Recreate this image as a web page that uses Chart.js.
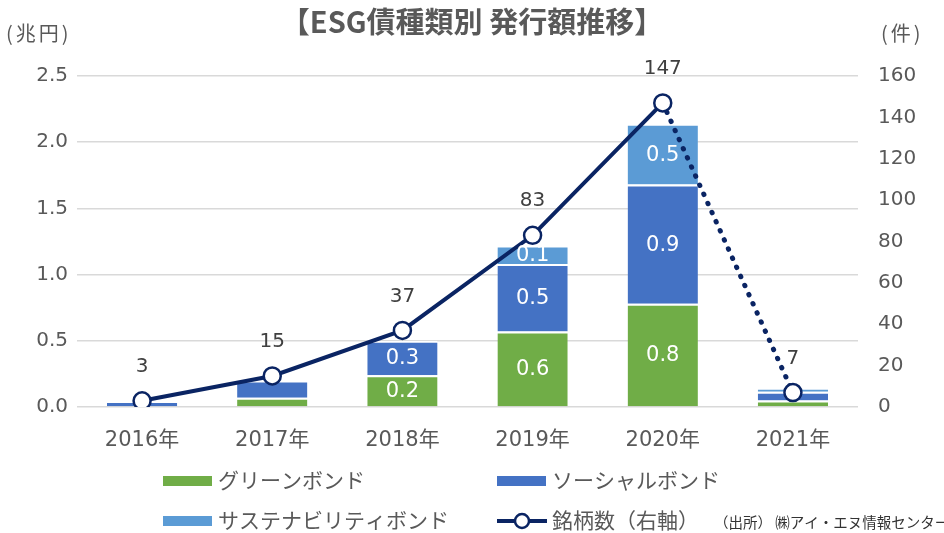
<!DOCTYPE html>
<html lang="ja">
<head>
<meta charset="UTF-8">
<title>ESG債種類別 発行額推移</title>
<script src="https://cdn.jsdelivr.net/npm/chart.js"></script>
<style>
  body { margin: 0; background: #fff; }
  .wrap { width: 944px; height: 533px; position: relative; }
</style>
</head>
<body>
<div class="wrap"><canvas id="esgChart"></canvas></div>
<script>
  // データ（兆円 / 件）
  const years = ['2016年', '2017年', '2018年', '2019年', '2020年', '2021年'];
  const greenBond = [0, 0.07, 0.24, 0.57, 0.78, 0.05];
  const socialBond = [0.045, 0.13, 0.26, 0.51, 0.90, 0.065];
  const sustainBond = [0, 0, 0, 0.14, 0.46, 0.03];
  const issueCount = [3, 15, 37, 83, 147, 7];
  const labeledYears = ['2018年', '2019年', '2020年'];

  const NAVY = '#0a2463';
  const GREY = '#595959';
  const NUM = "'DejaVu Sans', 'Noto Sans CJK JP', sans-serif";
  const CJK = "'Noto Sans CJK JP', 'Liberation Sans', sans-serif";

  // 文字・凡例・ラベルを描くプラグイン
  const decor = {
    id: 'decor',
    afterDatasetsDraw(chart) {
      const ctx = chart.ctx;
      ctx.save();
      ctx.textAlign = 'center';
      ctx.textBaseline = 'middle';

      // 棒グラフの数値（白）
      ctx.fillStyle = '#fff';
      ctx.font = '21px ' + NUM;
      [0, 1, 2].forEach(di => {
        const meta = chart.getDatasetMeta(di);
        meta.data.forEach((bar, i) => {
          if (!labeledYears.includes(years[i])) return;
          const v = chart.data.datasets[di].data[i];
          if (!v) return;
          ctx.fillText(v.toFixed(1), bar.x, (bar.y + bar.base) / 2 + 1);
        });
      });

      // 折れ線の数値
      ctx.fillStyle = '#404040';
      ctx.font = '20px ' + NUM;
      chart.getDatasetMeta(3).data.forEach((pt, i) => {
        ctx.fillText(String(issueCount[i]), pt.x, pt.y - 34);
      });
      ctx.restore();
    },
    afterDraw(chart) {
      const ctx = chart.ctx;
      ctx.save();
      ctx.textBaseline = 'middle';

      // タイトル
      ctx.fillStyle = GREY;
      ctx.textAlign = 'center';
      ctx.font = 'bold 29px ' + CJK;
      ctx.fillText('【ESG債種類別 発行額推移】', 472, 22);

      // 軸タイトル
      ctx.font = '20px ' + CJK;
      ctx.textAlign = 'left';
      ctx.letterSpacing = '3px';
      ctx.fillText('(兆円)', 6, 33);
      ctx.fillText('(件)', 881, 33);
      ctx.letterSpacing = '0px';

      // 凡例
      const ds = chart.data.datasets;
      const slots = [
        { d: ds[0], x: 163, y: 480 },
        { d: ds[1], x: 497, y: 480 },
        { d: ds[2], x: 163, y: 520 },
        { d: ds[3], x: 497, y: 520 }
      ];
      ctx.font = '21px ' + CJK;
      slots.forEach(s => {
        if (s.d.type === 'line') {
          ctx.strokeStyle = s.d.borderColor;
          ctx.lineWidth = 4;
          ctx.beginPath();
          ctx.moveTo(s.x, s.y + 1);
          ctx.lineTo(s.x + 50, s.y + 1);
          ctx.stroke();
          ctx.beginPath();
          ctx.arc(s.x + 25, s.y + 1, 7, 0, Math.PI * 2);
          ctx.fillStyle = '#fff';
          ctx.fill();
          ctx.lineWidth = 2.5;
          ctx.stroke();
        } else {
          ctx.fillStyle = s.d.backgroundColor;
          ctx.fillRect(s.x, s.y - 4, 49, 10);
        }
        ctx.fillStyle = GREY;
        ctx.fillText(s.d.label, s.x + 55, s.y);
      });

      // 出所
      ctx.font = '14.5px ' + CJK;
      ctx.fillStyle = '#333';
      ctx.fillText('（出所） ㈱アイ・エヌ情報センター', 714, 522);
      ctx.restore();
    }
  };

  const barStyle = {
    borderColor: '#fff',
    borderWidth: { top: 2, left: 0, right: 0, bottom: 0 },
    borderSkipped: false,
    categoryPercentage: 1,
    barPercentage: 0.54,
    yAxisID: 'y',
    stack: 'bond',
    order: 1
  };

  new Chart(document.getElementById('esgChart'), {
    data: {
      labels: years,
      datasets: [
        Object.assign({ type: 'bar', label: 'グリーンボンド', data: greenBond, backgroundColor: '#70ad47' }, barStyle),
        Object.assign({ type: 'bar', label: 'ソーシャルボンド', data: socialBond, backgroundColor: '#4472c4' }, barStyle),
        Object.assign({ type: 'bar', label: 'サステナビリティボンド', data: sustainBond, backgroundColor: '#5b9bd5' }, barStyle),
        {
          type: 'line',
          label: '銘柄数（右軸）',
          data: issueCount,
          yAxisID: 'y1',
          order: 0,
          borderColor: NAVY,
          borderWidth: 4,
          pointRadius: 8.5,
          pointHoverRadius: 8.5,
          pointBorderWidth: 2.5,
          pointBackgroundColor: '#fff',
          pointBorderColor: NAVY,
          tension: 0,
          segment: {
            borderDash: c => c.p1DataIndex === issueCount.length - 1 ? [0.5, 9.5] : [],
            borderCapStyle: c => c.p1DataIndex === issueCount.length - 1 ? 'round' : 'butt',
            borderWidth: c => c.p1DataIndex === issueCount.length - 1 ? 5 : 4
          }
        }
      ]
    },
    options: {
      responsive: true,
      maintainAspectRatio: false,
      animation: false,
      layout: { padding: { top: 76, left: 0, right: 0, bottom: 0 } },
      plugins: {
        legend: { display: false },
        title: { display: false },
        tooltip: { enabled: false }
      },
      scales: {
        x: {
          stacked: true,
          grid: { display: false, drawTicks: false },
          border: { display: false },
          ticks: { color: GREY, font: { size: 21, family: NUM }, padding: 21 },
          afterFit: s => { s.height = 126; }
        },
        y: {
          stacked: true,
          position: 'left',
          min: 0, max: 2.5,
          ticks: {
            stepSize: 0.5,
            color: GREY,
            font: { size: 20, family: NUM },
            padding: 9,
            callback: v => v.toFixed(1)
          },
          grid: { color: '#d9d9d9', lineWidth: 1.5, drawTicks: false },
          border: { display: false },
          afterFit: s => { s.width = 77; }
        },
        y1: {
          position: 'right',
          min: 0, max: 160,
          ticks: {
            stepSize: 20,
            color: GREY,
            font: { size: 20, family: NUM },
            padding: 20
          },
          grid: { display: false, drawTicks: false },
          border: { display: false },
          afterFit: s => { s.width = 86; }
        }
      }
    },
    plugins: [decor]
  });
</script>
</body>
</html>
